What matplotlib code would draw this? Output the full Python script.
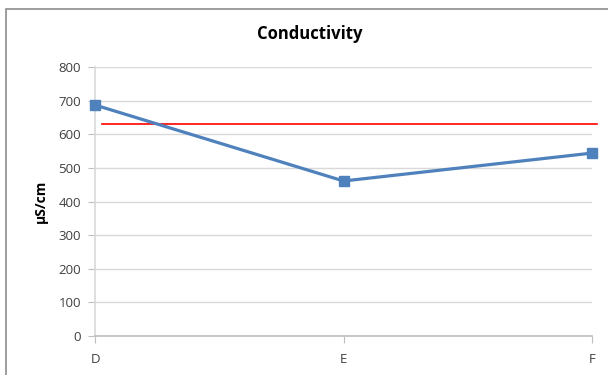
import matplotlib.pyplot as plt
from matplotlib.patches import Rectangle

# data
sites = ["D", "E", "F"]
conductivity = [687, 461, 544]
limit = 631

plt.rcParams['font.family'] = ['Open Sans', 'DejaVu Sans']

fig = plt.figure(figsize=(6.08, 3.75), dpi=100)
ax = fig.add_axes([0.1563, 0.104, 0.8174, 0.7173])

# chart frame (cut off at right and bottom like the screenshot)
fig.patches.append(Rectangle((6/608, -0.1), 1.2, 1 - 9/375 + 0.1, transform=fig.transFigure,
                             fill=False, edgecolor='#8c8c8c', linewidth=1.2))

x = list(range(len(sites)))
ax.plot(x, conductivity, color='#4F81BD', linewidth=2.3, marker='s', markersize=7,
        clip_on=False, zorder=3)
ax.plot([0.03, 2.02], [limit, limit], color='#FF0000', linewidth=1.2, clip_on=False, zorder=2)

ax.set_xlim(0, 2)
ax.set_ylim(0, 800)
ax.set_yticks(range(0, 801, 100))
ax.set_xticks(x)
ax.set_xticklabels(sites)

ax.grid(axis='y', color='#d9d9d9', linewidth=1)
ax.set_axisbelow(True)
for s in ['top', 'right']:
    ax.spines[s].set_visible(False)
ax.spines['left'].set_color('#d9d9d9')
ax.spines['bottom'].set_color('#bfbfbf')
ax.spines['left'].set_linewidth(1.2)
ax.spines['bottom'].set_linewidth(1.2)
ax.tick_params(axis='y', length=5, color='#bfbfbf', labelsize=9.5, labelcolor='#404040', pad=5)
ax.tick_params(axis='x', length=5, color='#bfbfbf', labelsize=9.5, labelcolor='#404040', pad=7)

ax.set_ylabel("µS/cm", fontsize=10, fontweight='bold', labelpad=8)
fig.text(0.51, 0.91, "Conductivity", ha='center', va='center', fontsize=12, fontweight='bold')

fig.savefig("out.png", dpi=100)
